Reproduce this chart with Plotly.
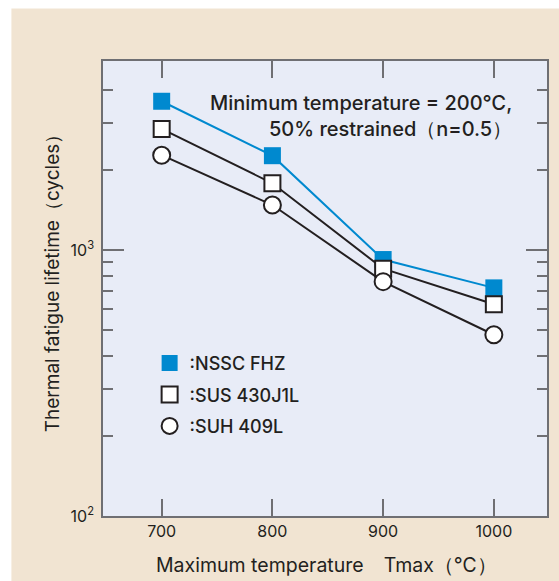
import plotly.graph_objects as go

# Maximum temperature of the thermal cycle (°C)
tmax = [700, 800, 900, 1000]

# Thermal fatigue lifetime (cycles) per steel grade
nssc_fhz = [3620, 2260, 920, 720]
sus_430j1l = [2850, 1780, 850, 625]
suh_409l = [2270, 1475, 760, 480]

# Log-axis tick values and labels
y_major = [100, 1000]
y_major_text = ["10<sup>2</sup>", "10<sup>3</sup>"]
y_minor = [200, 300, 400, 500, 600, 700, 800, 900, 2000, 3000, 4000]
x_ticks = [700, 800, 900, 1000]

BLUE = "#0089CF"
INK = "#231F20"
AXIS = "#6F6F73"
FONT = "Inter, Liberation Sans, Arial, sans-serif"
W = 500

series = [
    (":NSSC FHZ", nssc_fhz, BLUE,
     dict(symbol="square", size=17, color=BLUE, line=dict(color=BLUE, width=0))),
    (":SUS 430J1L", sus_430j1l, INK,
     dict(symbol="square", size=16, color="white", line=dict(color=INK, width=2))),
    (":SUH 409L", suh_409l, INK,
     dict(symbol="circle", size=17, color="white", line=dict(color=INK, width=2))),
]

fig = go.Figure()
for name, values, line_color, marker in series:
    fig.add_trace(go.Scatter(
        x=tmax, y=values, mode="lines",
        line=dict(color=line_color, width=2),
        showlegend=False, hoverinfo="skip",
    ))
    fig.add_trace(go.Scatter(
        x=tmax, y=values, mode="markers", name=name,
        legendgroup=name, marker=marker,
    ))

fig.update_layout(
    width=559, height=581, autosize=False,
    margin=dict(l=103, r=10, t=61, b=65, pad=0),
    paper_bgcolor="#F1E4D2",
    plot_bgcolor="#E8ECF7",
    font=dict(family=FONT, color=INK, size=17, weight=W),
    showlegend=True,
    legend=dict(
        x=0.105, y=0.376, xanchor="left", yanchor="top",
        bgcolor="rgba(0,0,0,0)", borderwidth=0,
        font=dict(family=FONT, size=18, color=INK, weight=W),
        tracegroupgap=5, itemsizing="trace",
    ),
    xaxis=dict(
        range=[647, 1048], tickvals=x_ticks,
        ticks="inside", ticklen=17, tickwidth=1.5, tickcolor=AXIS,
        showline=True, linecolor=AXIS, linewidth=1.5, mirror="ticks",
        showgrid=False, zeroline=False,
        tickfont=dict(family=FONT, size=16, color=INK, weight=400),
    ),
    yaxis=dict(
        type="log", range=[2, 3.71],
        tickmode="array", tickvals=y_major, ticktext=y_major_text,
        ticks="inside", ticklen=21, tickwidth=1.5, tickcolor=AXIS,
        minor=dict(tickmode="array", tickvals=y_minor, ticks="inside",
                   ticklen=10, tickwidth=1.5, tickcolor=AXIS, showgrid=False),
        showline=True, linecolor=AXIS, linewidth=1.5, mirror="ticks",
        showgrid=False, zeroline=False,
        tickfont=dict(family=FONT, size=16, color=INK, weight=400),
        ticklabelstandoff=4,
    ),
    shapes=[
        # white margin strips around the beige panel
        dict(type="rect", xref="paper", yref="paper", layer="above",
             x0=-0.25, x1=-0.2063, y0=-0.2, y1=1.2,
             fillcolor="white", line=dict(width=0)),
        dict(type="rect", xref="paper", yref="paper", layer="above",
             x0=-0.25, x1=1.05, y0=1.1154, y1=1.2,
             fillcolor="white", line=dict(width=0)),
    ],
    annotations=[
        dict(text="Minimum temperature = 200℃,<br>50% restrained（n=0.5）",
             xref="paper", yref="paper", x=0.926, y=0.880,
             xanchor="right", yanchor="middle", align="right",
             showarrow=False, font=dict(family=FONT, size=20, color=INK, weight=W)),
        dict(text="Maximum temperature　Tmax（℃）",
             xref="paper", yref="paper", x=0.5034, y=-0.1077,
             xanchor="center", yanchor="middle",
             showarrow=False, font=dict(family=FONT, size=19.5, color=INK, weight=400)),
        dict(text="Thermal fatigue lifetime（cycles）",
             xref="paper", yref="paper", x=-0.1121, y=0.5209,
             xanchor="center", yanchor="middle", textangle=-90,
             showarrow=False, font=dict(family=FONT, size=19, color=INK, weight=400)),
    ],
)

fig.write_html("out.html")
